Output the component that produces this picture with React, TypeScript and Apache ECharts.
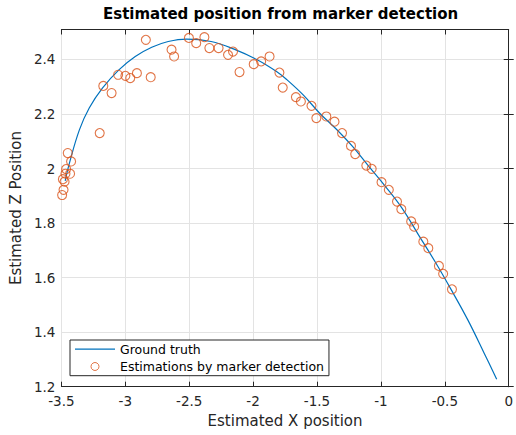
import React, { useEffect, useRef } from "react";
import * as echarts from "echarts";

const groundTruthX = [-3.47, -3.437, -3.359, -3.282, -3.179, -3.05, -2.922, -2.793, -2.664, -2.52, -2.329, -2.149, -1.968, -1.814, -1.736, -1.608, -1.479, -1.35, -1.222, -1.093, -0.964, -0.835, -0.706, -0.577, -0.449, -0.32, -0.191, -0.094];
const groundTruthZ = [1.955, 2.02, 2.142, 2.222, 2.295, 2.362, 2.411, 2.445, 2.466, 2.475, 2.466, 2.438, 2.399, 2.355, 2.326, 2.27, 2.203, 2.145, 2.081, 2.007, 1.934, 1.855, 1.757, 1.659, 1.555, 1.445, 1.322, 1.227];

const markerX = [-3.494, -3.483, -3.475, -3.488, -3.468, -3.463, -3.432, -3.424, -3.45, -3.2, -3.172, -3.107, -3.056, -2.999, -2.961, -2.909, -2.801, -2.839, -2.7, -2.638, -2.618, -2.502, -2.445, -2.381, -2.342, -2.27, -2.196, -2.157, -2.106, -1.995, -1.937, -1.871, -1.794, -1.768, -1.665, -1.626, -1.543, -1.505, -1.427, -1.363, -1.304, -1.234, -1.201, -1.114, -1.072, -0.995, -0.938, -0.874, -0.84, -0.763, -0.74, -0.668, -0.629, -0.546, -0.513, -0.444];
const markerZ = [1.903, 1.922, 1.952, 1.961, 1.981, 1.998, 1.981, 2.026, 2.057, 2.13, 2.303, 2.277, 2.344, 2.34, 2.332, 2.35, 2.335, 2.472, 2.513, 2.436, 2.411, 2.479, 2.46, 2.482, 2.442, 2.442, 2.417, 2.429, 2.354, 2.383, 2.393, 2.411, 2.352, 2.297, 2.262, 2.246, 2.23, 2.185, 2.191, 2.172, 2.13, 2.083, 2.053, 2.011, 1.999, 1.95, 1.922, 1.879, 1.851, 1.806, 1.787, 1.732, 1.708, 1.643, 1.614, 1.557];

const xTicks = { min: -3.5, max: 0, interval: 0.5 };
const yTicks = { min: 1.2, max: 2.51, interval: 0.2 };

const TXT = "#262626";
const FONT = "DejaVu Sans";

export default function App() {
  const ref = useRef<HTMLDivElement>(null);
  useEffect(() => {
    if (!ref.current) return;
    const chart = echarts.init(ref.current, undefined, { renderer: "svg" });
    const axisLine = { show: true, lineStyle: { color: TXT, width: 1 } };
    const tick = { show: true, inside: true, length: 5, lineStyle: { color: TXT } };
    chart.setOption({
      animation: false,
      backgroundColor: "#fff",
      title: {
        text: "Estimated position from marker detection",
        left: 103,
        top: 6,
        padding: 0,
        textStyle: { fontFamily: FONT, fontSize: 15, fontWeight: "bold", color: "#000" },
      },
      grid: { left: 58.7, right: 5, top: 29.5, bottom: 48.3, containLabel: false },
      legend: {
        orient: "vertical",
        left: 70,
        top: 340,
        width: 258,
        padding: [2.2, 5, 2.2, 5],
        itemGap: 3.3,
        itemWidth: 40,
        itemHeight: 8,
        backgroundColor: "#fff",
        borderColor: TXT,
        borderWidth: 1,
        borderRadius: 0,
        textStyle: { fontFamily: FONT, fontSize: 12.5, color: "#000", lineHeight: 14 },
        data: [
          { name: "Ground truth", icon: "path://M0,0 L40,0 L40,1.2 L0,1.2 Z", itemStyle: { color: "#0072BD", borderWidth: 0 } },
          { name: "Estimations by marker detection", itemStyle: { color: "rgba(0,0,0,0)", borderColor: "#D95319", borderWidth: 1 } },
        ],
      },
      xAxis: [
        {
          type: "value",
          position: "bottom",
          ...xTicks,
          name: "Estimated X position",
          nameLocation: "middle",
          nameGap: 27,
          nameTextStyle: { fontFamily: FONT, fontSize: 15, color: TXT },
          axisLine,
          axisTick: tick,
          axisLabel: { fontFamily: FONT, fontSize: 13.5, color: TXT, margin: 7 },
          splitLine: { show: true, lineStyle: { color: "#e3e3e3", width: 1 } },
        },
        {
          type: "value",
          position: "top",
          ...xTicks,
          axisLine,
          axisTick: tick,
          axisLabel: { show: false },
          splitLine: { show: false },
        },
      ],
      yAxis: [
        {
          type: "value",
          position: "left",
          ...yTicks,
          name: "Estimated Z Position",
          nameLocation: "middle",
          nameGap: 32,
          nameTextStyle: { fontFamily: FONT, fontSize: 15, color: TXT },
          axisLine,
          axisTick: tick,
          axisLabel: { fontFamily: FONT, fontSize: 13.5, color: TXT, margin: 6, showMaxLabel: false },
          splitLine: { show: true, lineStyle: { color: "#e3e3e3", width: 1 } },
        },
        {
          type: "value",
          position: "right",
          ...yTicks,
          axisLine,
          axisTick: tick,
          axisLabel: { show: false },
          splitLine: { show: false },
        },
      ],
      series: [
        {
          name: "Ground truth",
          type: "line",
          xAxisIndex: 0,
          yAxisIndex: 0,
          data: groundTruthX.map((x, i) => [x, groundTruthZ[i]]),
          symbol: "none",
          smooth: 0.4,
          lineStyle: { color: "#0072BD", width: 1.2 },
          itemStyle: { color: "#0072BD" },
          z: 3,
        },
        {
          name: "Estimations by marker detection",
          type: "scatter",
          xAxisIndex: 0,
          yAxisIndex: 0,
          data: markerX.map((x, i) => [x, markerZ[i]]),
          symbol: "circle",
          symbolSize: 9,
          itemStyle: { color: "rgba(0,0,0,0)", borderColor: "#D95319", borderWidth: 1.1 },
          z: 4,
        },
      ],
    });
    return () => chart.dispose();
  }, []);
  return <div ref={ref} style={{ width: 516, height: 435, position: "absolute", left: 0, top: 0 }} />;
}
